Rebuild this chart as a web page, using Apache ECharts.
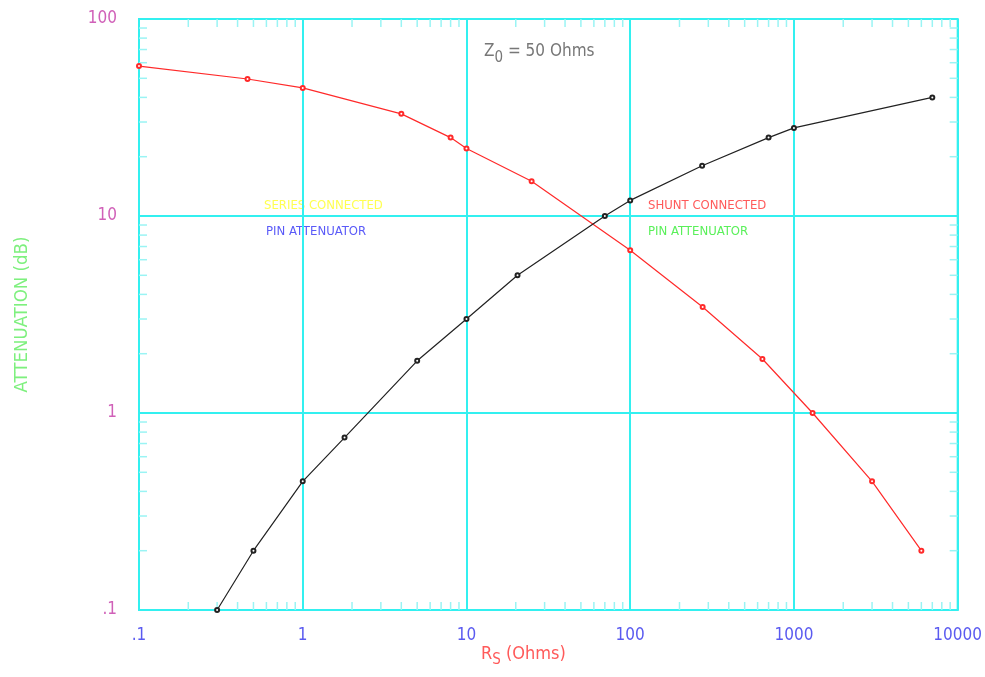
<!DOCTYPE html>
<html>
<head>
<meta charset="utf-8">
<script src="https://cdn.jsdelivr.net/npm/echarts@6/dist/echarts.min.js"></script>
<style>
html,body{margin:0;padding:0;background:#fff;}
#chart{width:985px;height:677px;}
</style>
</head>
<body>
<div id="chart"></div>
<script>
// Shunt connected PIN attenuator (red): [Rs ohms, attenuation dB]
const shuntX = [0.1, 0.46, 1, 4, 8, 10, 25, 100, 277, 642, 1300, 3000, 6000];
const shuntY = [57.7, 49.6, 44.7, 33, 25, 22, 15, 6.7, 3.45, 1.88, 1.0, 0.45, 0.2];
// Series connected PIN attenuator (black)
const seriesX = [0.3, 0.5, 1, 1.8, 5, 10, 20.5, 70, 100, 275, 700, 1000, 7000];
const seriesY = [0.1, 0.2, 0.45, 0.75, 1.84, 3, 5, 10, 12, 18, 25, 28, 40];
// axis tick values
const xTicks = [0.1, 1, 10, 100, 1000, 10000];
const xTickLabels = ['.1', '1', '10', '100', '1000', '10000'];
const yTicks = [0.1, 1, 10, 100];
const yTickLabels = ['.1', '1', '10', '100'];
const minorMult = [2, 3, 4, 5, 6, 7, 8, 9];
const xDecades = [0.1, 1, 10, 100, 1000];
const yDecades = [0.1, 1, 10];

const xMinor = [];
xDecades.forEach(d => minorMult.forEach(m => xMinor.push([+(d * m).toPrecision(3), 0.1])));
const yMinor = [];
yDecades.forEach(d => minorMult.forEach(m => yMinor.push([0.1, +(d * m).toPrecision(3)])));

const FONT = '"DejaVu Sans Condensed", "Liberation Sans Narrow", Roboto, sans-serif';
const GRID = '#33f0f0';
const MINOR = '#9af4f4';
const TL = 8;

function labelFor(v, ticks, labels) {
  for (let i = 0; i < ticks.length; i++) {
    if (Math.abs(Math.log10(v) - Math.log10(ticks[i])) < 1e-6) return labels[i];
  }
  return '';
}

const chart = echarts.init(document.getElementById('chart'));
chart.setOption({
  animation: false,
  backgroundColor: '#ffffff',
  grid: {left: 139, right: 21, top: 19, bottom: 67, show: true, borderColor: GRID, borderWidth: 2},
  xAxis: {
    type: 'log', logBase: 10, min: 0.1, max: 10000,
    axisLine: {show: true, lineStyle: {color: GRID, width: 2}},
    axisTick: {show: false},
    splitLine: {show: true, lineStyle: {color: GRID, width: 2}},
    axisLabel: {color: '#5a5af0', fontFamily: FONT, fontSize: 17, margin: 17,
      formatter: v => labelFor(v, xTicks, xTickLabels)}
  },
  yAxis: {
    type: 'log', logBase: 10, min: 0.1, max: 100,
    axisLine: {show: true, lineStyle: {color: GRID, width: 2}},
    axisTick: {show: false},
    splitLine: {show: true, lineStyle: {color: GRID, width: 2}},
    axisLabel: {color: '#d060b8', fontFamily: FONT, fontSize: 17, margin: 22,
      formatter: v => labelFor(v, yTicks, yTickLabels)},
    name: 'ATTENUATION (dB)', nameLocation: 'middle', nameGap: 107, nameRotate: 90,
    nameTextStyle: {color: '#7ef07e', fontFamily: FONT, fontSize: 18.5}
  },
  series: [
    {
      type: 'custom', silent: true, clip: false, z: 1,
      data: xMinor,
      renderItem: function (params, api) {
        const p = api.coord([api.value(0), api.value(1)]);
        const cs = params.coordSys;
        return {type: 'group', children: [
          {type: 'line', shape: {x1: p[0], y1: cs.y + cs.height, x2: p[0], y2: cs.y + cs.height - TL}, style: {stroke: MINOR, lineWidth: 1.5}},
          {type: 'line', shape: {x1: p[0], y1: cs.y, x2: p[0], y2: cs.y + TL}, style: {stroke: MINOR, lineWidth: 1.5}}
        ]};
      }
    },
    {
      type: 'custom', silent: true, clip: false, z: 1,
      data: yMinor,
      renderItem: function (params, api) {
        const p = api.coord([api.value(0), api.value(1)]);
        const cs = params.coordSys;
        return {type: 'group', children: [
          {type: 'line', shape: {x1: cs.x, y1: p[1], x2: cs.x + TL, y2: p[1]}, style: {stroke: MINOR, lineWidth: 1.5}},
          {type: 'line', shape: {x1: cs.x + cs.width, y1: p[1], x2: cs.x + cs.width - TL, y2: p[1]}, style: {stroke: MINOR, lineWidth: 1.5}}
        ]};
      }
    },
    {
      name: 'Shunt', type: 'line', z: 3,
      data: shuntX.map((x, i) => [x, shuntY[i]]),
      symbol: 'emptyCircle', symbolSize: 4, showSymbol: true,
      lineStyle: {color: '#ff2a2a', width: 1.2},
      itemStyle: {color: '#ff2a2a', borderWidth: 1}
    },
    {
      name: 'Series', type: 'line', z: 3,
      data: seriesX.map((x, i) => [x, seriesY[i]]),
      symbol: 'emptyCircle', symbolSize: 4, showSymbol: true,
      lineStyle: {color: '#222222', width: 1.2},
      itemStyle: {color: '#222222', borderWidth: 1}
    }
  ],
  graphic: [
    {type: 'text', left: 484, top: 43, style: {
      text: '{a|Z}{s|0}{a| = 50 Ohms}',
      rich: {
        a: {fill: '#777777', fontFamily: FONT, fontSize: 17},
        s: {fill: '#777777', fontFamily: FONT, fontSize: 15, padding: [14, 0, 0, 0]}
      }}},
    {type: 'text', left: 481, top: 645, style: {
      text: '{r|R}{s|S}{r| (Ohms)}',
      rich: {
        r: {fill: '#ff5a5a', fontFamily: FONT, fontSize: 18},
        s: {fill: '#ff5a5a', fontFamily: FONT, fontSize: 15, padding: [12, 0, 0, 0]}
      }}},
    {type: 'text', left: 264, top: 199, style: {text: 'SERIES CONNECTED', fill: '#ffff50', fontFamily: FONT, fontSize: 13}},
    {type: 'text', left: 266, top: 225, style: {text: 'PIN ATTENUATOR', fill: '#5a5af8', fontFamily: FONT, fontSize: 13}},
    {type: 'text', left: 648, top: 199, style: {text: 'SHUNT CONNECTED', fill: '#ff5a5a', fontFamily: FONT, fontSize: 13}},
    {type: 'text', left: 648, top: 225, style: {text: 'PIN ATTENUATOR', fill: '#5af05a', fontFamily: FONT, fontSize: 13}}
  ]
});
</script>
</body>
</html>
